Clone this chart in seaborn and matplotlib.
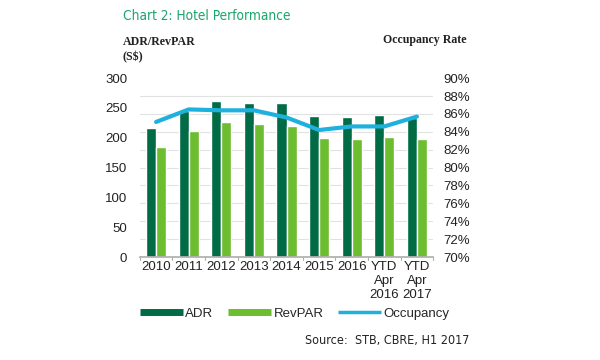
import pandas as pd
import matplotlib.pyplot as plt
import seaborn as sns
from matplotlib.lines import Line2D

# ----------------------------- Data -----------------------------
categories = ["2010", "2011", "2012", "2013", "2014", "2015", "2016",
              "YTD\nApr\n2016", "YTD\nApr\n2017"]
adr = [217, 245, 262, 258, 258, 237, 234, 238, 233]
revpar = [185, 212, 226, 223, 220, 199, 198, 201, 198]
occupancy = [85.1, 86.5, 86.4, 86.4, 85.6, 84.2, 84.6, 84.6, 85.7]

left_ticks = [0, 50, 100, 150, 200, 250, 300]
right_ticks = [70, 72, 74, 76, 78, 80, 82, 84, 86, 88, 90]

ADR_COLOR = "#006b45"
REVPAR_COLOR = "#6cbd2f"
OCC_COLOR = "#1fb1dd"

df = pd.DataFrame({
    "Year": categories * 2,
    "Value": adr + revpar,
    "Metric": ["ADR"] * len(categories) + ["RevPAR"] * len(categories),
})

# ----------------------------- Plot -----------------------------
sns.set_theme(style="white")
plt.rcParams["font.family"] = ["Liberation Sans", "DejaVu Sans"]

fig = plt.figure(figsize=(6, 3.6), dpi=100)
ax = fig.add_axes([0.233, 0.286, 0.489, 0.497])

sns.barplot(data=df, x="Year", y="Value", hue="Metric", order=categories,
            palette=[ADR_COLOR, REVPAR_COLOR], width=0.62, saturation=1,
            ax=ax, legend=False)
ax.set_ylim(0, 300)
ax.set_yticks(left_ticks)
ax.set_xlabel("")
ax.set_ylabel("")
ax.tick_params(axis="y", length=0, labelsize=9.5, pad=9, colors="#222222")
ax.tick_params(axis="x", length=0, labelsize=9.5, pad=3, colors="#222222")
for s in ["top", "right", "left"]:
    ax.spines[s].set_visible(False)
ax.spines["bottom"].set_color("#b0b0b0")
ax.set_xlim(-0.5, len(categories) - 0.5)
# little separators on the category axis
for i in range(len(categories) + 1):
    ax.plot([i - 0.5, i - 0.5], [0, -5], color="#b0b0b0", lw=0.8, clip_on=False)

ax2 = ax.twinx()
sns.lineplot(x=list(range(len(categories))), y=occupancy, color=OCC_COLOR,
             linewidth=3, ax=ax2)
ax2.set_ylim(70, 90)
ax2.set_yticks(right_ticks)
ax2.set_yticklabels([f"{t}%" for t in right_ticks])
ax2.tick_params(axis="y", length=0, labelsize=9.5, pad=7, colors="#222222")
for s in ["top", "right", "left", "bottom"]:
    ax2.spines[s].set_visible(False)
for t in right_ticks[1:-1]:
    ax.axhline((t - 70) * 15, color="#e2e2e2", lw=0.8, zorder=0)
ax.set_axisbelow(True)

# ----------------------------- Texts -----------------------------
condensed = dict(family=["DejaVu Sans"], fontstretch="condensed")
fig.text(0.205, 0.955, "Chart 2: Hotel Performance", color="#1aa56e",
         fontsize=9.8, va="center", **condensed)
serif = dict(fontsize=8.6, fontweight="bold", color="#222222", va="center",
             family=["Liberation Serif", "DejaVu Serif"])
fig.text(0.205, 0.882, "ADR/RevPAR", **serif)
fig.text(0.205, 0.84, "(S$)", **serif)
fig.text(0.638, 0.888, "Occupancy Rate", **serif)

handles = [
    Line2D([0], [0], color=ADR_COLOR, lw=5, solid_capstyle="butt"),
    Line2D([0], [0], color=REVPAR_COLOR, lw=5, solid_capstyle="butt"),
    Line2D([0], [0], color=OCC_COLOR, lw=2.5, solid_capstyle="butt"),
]
fig.legend(handles, ["ADR", "RevPAR", "Occupancy"], loc="center",
           bbox_to_anchor=(0.491, 0.128), ncol=3, frameon=False, fontsize=9.5,
           handlelength=3.3, handletextpad=0.15, columnspacing=1.1)

fig.text(0.782, 0.055, "Source:  STB, CBRE, H1 2017", ha="right", va="center",
         fontsize=9, color="#222222", **condensed)

fig.savefig("out.png", dpi=100)
